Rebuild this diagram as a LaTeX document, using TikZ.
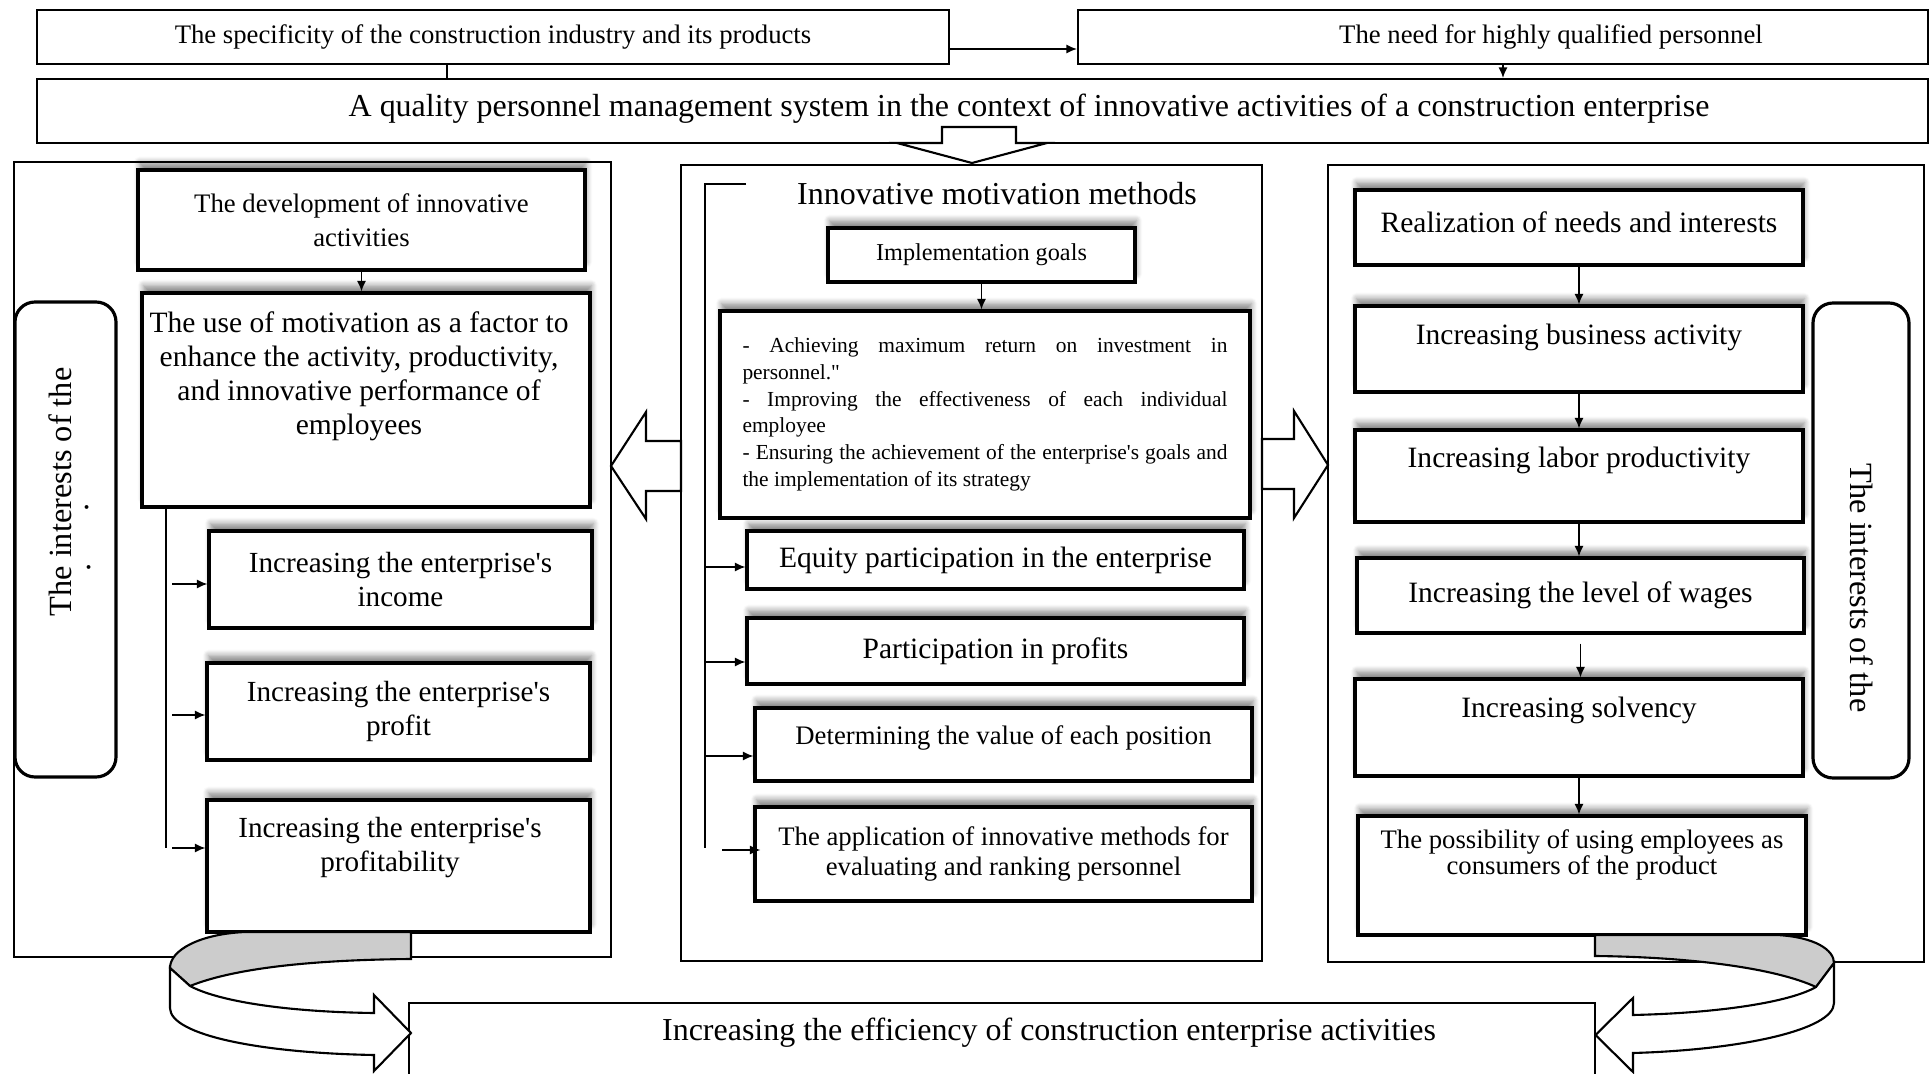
\documentclass[tikz,border=0pt]{standalone}
\usepackage{fontspec}
\setmainfont{Liberation Serif}
\usetikzlibrary{arrows.meta, positioning, shadows.blur}

\begin{document}
\begin{tikzpicture}[
    topbox/.style={rectangle, draw, line width=0.6pt, inner sep=0pt, font=\fontsize{7.6}{9}\selectfont},
    panel/.style={rectangle, draw, line width=0.6pt, inner sep=0pt},
    ibox/.style={rectangle, draw, line width=0.9pt, fill=white, inner sep=0pt, align=center, blur shadow={shadow xshift=0.4pt, shadow yshift=2.2pt, shadow blur radius=1.6pt, shadow blur steps=6, shadow opacity=45}, font=\fontsize{8.4}{9.7}\selectfont},
    txt/.style={align=center, inner sep=0pt, font=\fontsize{8.4}{9.7}\selectfont},
    side/.style={rectangle, draw, line width=0.9pt, rounded corners=0.2cm, inner sep=0pt},
    vtext/.style={inner sep=0pt, font=\fontsize{9.2}{10}\selectfont},
    arrow/.style={->, >={Latex[length=3pt,width=2.6pt]}, line width=0.45pt},
    link/.style={line width=0.45pt},
    hollow/.style={draw, line width=0.6pt, fill=white},
    band/.style={draw, line width=0.6pt, fill=black!20},
]
\useasboundingbox (0,0) rectangle (19.30,-10.74);

% Top row
\node[topbox, minimum width=9.12cm, minimum height=0.54cm] (spec) at (4.93,-0.37) {The specificity of the construction industry and its products};
\node[topbox, minimum width=8.50cm, minimum height=0.54cm] (need) at (15.03,-0.37) {};
\node[txt, font=\fontsize{7.6}{9}\selectfont] (needt) at (15.51,-0.37) {The need for highly qualified personnel};
\node[topbox, minimum width=18.91cm, minimum height=0.64cm] (qsys) at (9.825,-1.11) {};
\node[txt, font=\fontsize{9.1}{10}\selectfont] (qsyst) at (10.29,-1.09) {A quality personnel management system in the context of innovative activities of a construction enterprise};

\draw[arrow] ([yshift=-0.12cm]spec.east) -- ([yshift=-0.12cm]need.west);
\draw[link] ([xshift=-0.46cm]spec.south) -- ([xshift=-0.46cm]spec.south |- qsys.north);
\draw[arrow] (need.south) -- (need.south |- qsys.north);

% Three panels
\node[panel, minimum width=5.97cm, minimum height=7.95cm] (lpan) at (3.125,-5.595) {};
\node[panel, minimum width=5.81cm, minimum height=7.96cm] (cpan) at (9.715,-5.63) {};
\node[panel, minimum width=5.96cm, minimum height=7.97cm] (rpan) at (16.26,-5.635) {};

% Block arrows
\draw[hollow] (9.42,-1.27) -- (10.16,-1.27) -- (10.16,-1.43) -- (10.47,-1.43) -- (9.72,-1.63) -- (8.97,-1.43) -- (9.42,-1.43) -- cycle;
\draw[hollow] (6.81,-4.41) -- (6.46,-4.41) -- (6.46,-4.12) -- (6.11,-4.66) -- (6.46,-5.19) -- (6.46,-4.91) -- (6.81,-4.91) -- cycle;
\draw[hollow] (12.62,-4.39) -- (12.94,-4.39) -- (12.94,-4.11) -- (13.28,-4.65) -- (12.94,-5.18) -- (12.94,-4.89) -- (12.62,-4.89) -- cycle;

% Left panel
\node[side, minimum width=1.01cm, minimum height=4.75cm] (lint) at (0.655,-5.395) {};
\node[vtext, rotate=90] (lintt) at (0.60,-4.92) {The interests of the};
\node[vtext, rotate=90, anchor=base] (ldot1) at (0.885,-5.07) {.};
\node[vtext, rotate=90, anchor=base] (ldot2) at (0.905,-5.67) {.};

\node[ibox, minimum width=4.47cm, minimum height=1.00cm, font=\fontsize{7.6}{9.6}\selectfont] (dev) at (3.615,-2.20) {The development of innovative\\activities};
\node[ibox, minimum width=4.48cm, minimum height=2.14cm] (use) at (3.66,-4.00) {};
\node[txt] (uset) at (3.59,-3.765) {The use of motivation as a factor to\\enhance the activity, productivity,\\and innovative performance of\\employees};
\draw[arrow] (dev.south) -- (dev.south |- use.north);

\node[ibox, minimum width=3.83cm, minimum height=0.97cm, font=\fontsize{8.3}{9.9}\selectfont] (income) at (4.005,-5.795) {Increasing the enterprise\textquotesingle s\\income};
\node[ibox, minimum width=3.83cm, minimum height=0.97cm, font=\fontsize{8.3}{9.9}\selectfont] (profit) at (3.985,-7.115) {Increasing the enterprise\textquotesingle s\\profit};
\node[ibox, minimum width=3.83cm, minimum height=1.32cm] (profy) at (3.985,-8.66) {};
\node[txt, font=\fontsize{8.3}{9.9}\selectfont] (profyt) at (3.90,-8.475) {Increasing the enterprise\textquotesingle s\\profitability};

\draw[link] (1.66,-5.07) -- (1.66,-8.48);
\coordinate (lt1) at (1.72,-5.84);
\coordinate (lt2) at (1.72,-7.15);
\coordinate (lt3) at (1.72,-8.48);
\draw[arrow] (lt1) -- (lt1 -| income.west);
\draw[arrow] (lt2) -- (lt2 -| profit.west);
\draw[arrow] (lt3) -- (lt3 -| profy.west);

% Centre panel
\node[font=\fontsize{9.1}{10}\selectfont, inner sep=0pt] (imm) at (9.97,-1.94) {Innovative motivation methods};
\draw[link] (7.46,-1.84) -- (7.05,-1.84) -- (7.05,-8.48);

\node[ibox, minimum width=3.07cm, minimum height=0.54cm, font=\fontsize{6.9}{8}\selectfont] (goals) at (9.815,-2.55) {Implementation goals};
\node[ibox, minimum width=5.30cm, minimum height=2.07cm, text width=4.85cm, align=justify, font=\fontsize{6.1}{7.6}\selectfont] (glist) at (9.85,-4.145) {- Achieving maximum return on investment in\linebreak personnel.\textquotedbl\par - Improving the effectiveness of each individual\linebreak employee\par - Ensuring the achievement of the enterprise\textquotesingle s goals and\linebreak the implementation of its strategy};
\draw[arrow] (goals.south) -- (goals.south |- glist.north);

\node[ibox, minimum width=4.97cm, minimum height=0.58cm] (equity) at (9.955,-5.60) {Equity participation in the enterprise};
\node[ibox, minimum width=4.97cm, minimum height=0.66cm] (part) at (9.955,-6.51) {Participation in profits};
\node[ibox, minimum width=4.97cm, minimum height=0.73cm] (determ) at (10.035,-7.445) {};
\node[txt, font=\fontsize{7.6}{9}\selectfont] (determt) at (10.035,-7.38) {Determining the value of each position};
\node[ibox, minimum width=4.97cm, minimum height=0.94cm, font=\fontsize{7.6}{8.6}\selectfont] (applic) at (10.035,-8.54) {The application of innovative methods for\\evaluating and ranking personnel};

\coordinate (ct1) at (7.05,-5.67);
\coordinate (ct2) at (7.05,-6.62);
\coordinate (ct3) at (7.05,-7.56);
\coordinate (ct4) at (7.22,-8.50);
\draw[arrow] (ct1) -- (ct1 -| equity.west);
\draw[arrow] (ct2) -- (ct2 -| part.west);
\draw[arrow] (ct3) -- (ct3 -| determ.west);
\draw[arrow] (ct4) -- ([xshift=0.07cm]ct4 -| applic.west);

% Right panel
\node[ibox, minimum width=4.48cm, minimum height=0.75cm] (real) at (15.79,-2.275) {};
\node[txt] (realt) at (15.79,-2.22) {Realization of needs and interests};
\node[ibox, minimum width=4.48cm, minimum height=0.86cm] (busi) at (15.79,-3.49) {};
\node[txt] (busit) at (15.79,-3.37) {Increasing business activity};
\node[ibox, minimum width=4.48cm, minimum height=0.92cm] (labor) at (15.79,-4.76) {};
\node[txt] (labort) at (15.79,-4.60) {Increasing labor productivity};
\node[ibox, minimum width=4.47cm, minimum height=0.75cm] (wages) at (15.805,-5.955) {Increasing the level of wages};
\node[ibox, minimum width=4.48cm, minimum height=0.97cm] (solv) at (15.79,-7.275) {};
\node[txt] (solvt) at (15.79,-7.10) {Increasing solvency};
\node[ibox, minimum width=4.48cm, minimum height=1.19cm] (poss) at (15.82,-8.755) {};
\node[txt, font=\fontsize{7.6}{7.6}\selectfont] (posst) at (15.82,-8.55) {The possibility of using employees as\\consumers of the product};

\draw[arrow] (real.south) -- (real.south |- busi.north);
\draw[arrow] (busi.south) -- (busi.south |- labor.north);
\draw[arrow] (labor.south) -- (labor.south |- wages.north);
\draw[arrow] ([yshift=-0.09cm]wages.south) -- (wages.south |- solv.north);
\draw[arrow] (solv.south) -- (solv.south |- poss.north);

\node[side, minimum width=0.96cm, minimum height=4.75cm] (rint) at (18.61,-5.405) {};
\node[vtext, rotate=-90] (rintt) at (18.62,-5.88) {The interests of the};

% Bottom result
\node[panel, minimum width=11.86cm, minimum height=0.87cm] (eff) at (10.02,-10.465) {};
\node[font=\fontsize{9.1}{10}\selectfont, inner sep=0pt] (efft) at (10.49,-10.33) {Increasing the efficiency of construction enterprise activities};

% Curved arrows into the result
\draw[band] (4.11,-9.32) -- (2.45,-9.32) .. controls (2.00,-9.34) and (1.70,-9.50) .. (1.70,-9.68) -- (1.90,-9.86) .. controls (2.30,-9.70) and (3.00,-9.60) .. (4.11,-9.59) -- cycle;
\draw[hollow] (1.70,-9.68) -- (1.70,-10.08) .. controls (1.70,-10.35) and (2.60,-10.53) .. (3.74,-10.55) -- (3.74,-10.71) -- (4.11,-10.33) -- (3.74,-9.95) -- (3.74,-10.13) .. controls (2.90,-10.12) and (2.20,-10.02) .. (1.90,-9.86) -- cycle;

\draw[band] (15.95,-9.35) -- (17.77,-9.35) .. controls (18.15,-9.37) and (18.34,-9.50) .. (18.34,-9.63) -- (18.16,-9.87) .. controls (17.75,-9.68) and (16.90,-9.57) .. (15.95,-9.56) -- cycle;
\draw[hollow] (18.34,-9.63) -- (18.34,-10.03) .. controls (18.34,-10.30) and (17.40,-10.50) .. (16.33,-10.53) -- (16.33,-10.72) -- (15.955,-10.35) -- (16.33,-9.98) -- (16.33,-10.15) .. controls (17.20,-10.13) and (17.90,-10.02) .. (18.16,-9.87) -- cycle;

\end{tikzpicture}
\end{document}
